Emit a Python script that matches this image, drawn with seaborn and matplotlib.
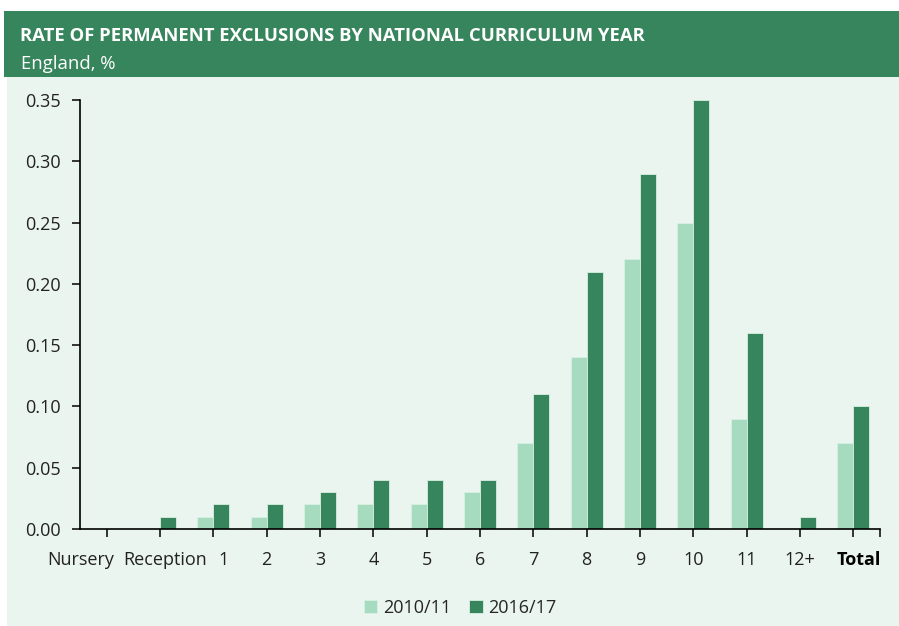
import pandas as pd
import seaborn as sns
import matplotlib.pyplot as plt
import matplotlib.transforms as mtransforms
from matplotlib.patches import Rectangle

years = ['Nursery', 'Reception', '1', '2', '3', '4', '5', '6', '7', '8', '9',
         '10', '11', '12+', 'Total']
rate_2010 = [0.0, 0.0, 0.01, 0.01, 0.02, 0.02, 0.02, 0.03, 0.07, 0.14, 0.22,
             0.25, 0.09, 0.0, 0.07]
rate_2016 = [0.0, 0.01, 0.02, 0.02, 0.03, 0.04, 0.04, 0.04, 0.11, 0.21, 0.29,
             0.35, 0.16, 0.01, 0.10]
series = ['2010/11', '2016/17']

df = pd.DataFrame({'year': years * 2,
                   'rate': rate_2010 + rate_2016,
                   'series': [series[0]] * len(years) + [series[1]] * len(years)})

sns.set_style('white')
plt.rcParams['font.family'] = ['Open Sans', 'DejaVu Sans']

bg = '#eaf5ef'
dark = '#37855c'
light = '#a6dbc0'

fig = plt.figure(figsize=(8.99, 6.26), dpi=100)
fig.patch.set_facecolor('white')
# light panel and green header
fig.patches.append(Rectangle((7 / 899, 0), 1, 1 - 77 / 626, transform=fig.transFigure,
                             facecolor=bg, edgecolor='none', zorder=-2))
fig.patches.append(Rectangle((4 / 899, 1 - 77 / 626), 1, 66 / 626, transform=fig.transFigure,
                             facecolor=dark, edgecolor='none', zorder=-2))
fig.text(20 / 899, 1 - 36 / 626, 'RATE OF PERMANENT EXCLUSIONS BY NATIONAL CURRICULUM YEAR',
         color='white', fontsize=13.3, fontweight='bold', va='center')
fig.text(21 / 899, 1 - 64 / 626, 'England, %', color='white', fontsize=13.3, va='center')

ax = fig.add_axes([80 / 899, 1 - 529 / 626, 800 / 899, 429 / 626])
ax.set_facecolor(bg)
sns.barplot(data=df, x='year', y='rate', hue='series', palette=[light, dark],
            saturation=1, width=0.6, edgecolor='#d9efe3', linewidth=0.6, ax=ax)

ax.set_ylim(0, 0.35)
ax.set_xlim(-0.5, 14.5)
ax.set_yticks([0, 0.05, 0.10, 0.15, 0.20, 0.25, 0.30, 0.35])
ax.set_yticklabels(['%.2f' % v for v in ax.get_yticks()])
ax.set_xlabel('')
ax.set_ylabel('')
for s in ['top', 'right']:
    ax.spines[s].set_visible(False)
for s in ['left', 'bottom']:
    ax.spines[s].set_color('black')
    ax.spines[s].set_linewidth(1.2)
ax.tick_params(axis='both', direction='out', length=6, width=1.1, color='black',
               labelsize=13, labelcolor='#222222', bottom=True, left=True)
ax.tick_params(axis='x', pad=10)
ax.tick_params(axis='y', pad=8)
ax.set_xticks(list(range(15)) + [14.5], labels=years + [''])
labels = ax.get_xticklabels()
labels[14].set_fontweight('bold')
labels[14].set_color('black')
# nudge the crowded first labels apart, as in the original
for lab, dx in zip(labels[:3], [-26, 5, 10]):
    lab.set_transform(lab.get_transform() +
                      mtransforms.ScaledTranslation(dx / 100, 0, fig.dpi_scale_trans))
labels[14].set_transform(labels[14].get_transform() +
                         mtransforms.ScaledTranslation(5 / 100, 0, fig.dpi_scale_trans))

ax.legend(loc='upper center', bbox_to_anchor=(0.475, -0.125), ncol=2, frameon=False,
          fontsize=13, handlelength=0.75, handleheight=0.75, handletextpad=0.3,
          columnspacing=1.0)

fig.savefig('out.png', dpi=100, facecolor='white')
